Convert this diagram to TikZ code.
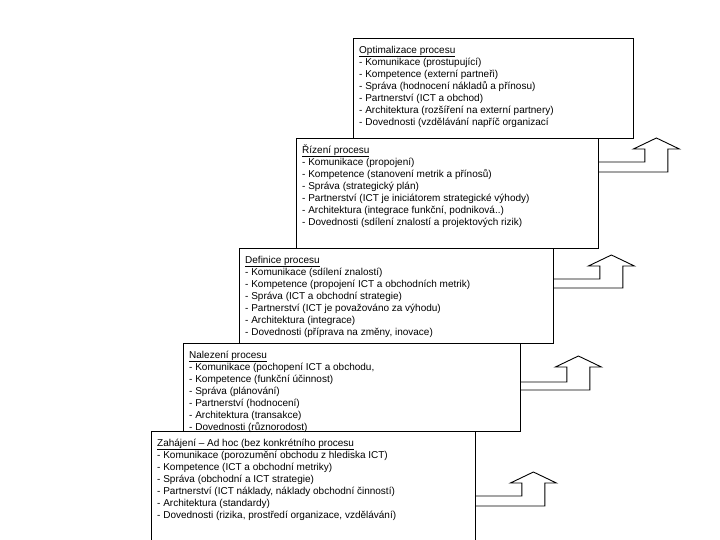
\documentclass[tikz,border=0pt]{standalone}
\usepackage{fontspec}
\setmainfont{Liberation Sans}
\usepackage{tikz}
\usetikzlibrary{calc}
\tikzstyle{stage}=[draw, line width=0.9pt, anchor=north west, inner sep=0pt]
\tikzstyle{stagetext}=[anchor=north west, align=left, inner xsep=6pt, inner ysep=5pt, font=\fontsize{10}{12}\selectfont]
\tikzstyle{bentarrow}=[line width=0.9pt, line join=miter]
\newcommand{\stage}{\node[stage]}
\newcommand{\stagetitle}[1]{\rule{0pt}{10pt}\underline{#1}}
\newcommand{\stagearrow}[4]{\draw[bentarrow] ($(#1.north east)+(0,#2)$) -- ++(46,0) -- ++(0,{#4-#2}) -- ++(-11.5,0) -- ++(23,-11) -- ++(23,11) -- ++(-11.5,0) -- ++(0,{#3-#4}) -- ++(-69,0);}

\begin{document}
\begin{tikzpicture}[x=1pt, y=-1pt]
    \useasboundingbox (0,0) rectangle (720,540);
    \stage[minimum width=280, minimum height=100] (opt) at (353,38) {};
    \stage[minimum width=302, minimum height=110] (riz) at (296,138) {};
    \stage[minimum width=314, minimum height=95] (def) at (239,248) {};
    \stage[minimum width=337, minimum height=88] (nal) at (183,343) {};
    \stage[minimum width=324, minimum height=112] (zah) at (151,431) {};
    \node[stagetext] (opttext) at (opt.north west) {\stagetitle{Optimalizace procesu}\\
        - Komunikace (prostupující)\\
        - Kompetence (externí partneři)\\
        - Správa (hodnocení nákladů a přínosu)\\
        - Partnerství (ICT a obchod)\\
        - Architektura (rozšíření na externí partnery)\\
        - Dovednosti (vzdělávání napříč organizací};
    \node[stagetext] (riztext) at (riz.north west) {\stagetitle{Řízení procesu}\\
        - Komunikace (propojení)\\
        - Kompetence (stanovení metrik a přínosů)\\
        - Správa (strategický plán)\\
        - Partnerství (ICT je iniciátorem strategické výhody)\\
        - Architektura (integrace funkční, podniková..)\\
        - Dovednosti (sdílení znalostí a projektových rizik)};
    \node[stagetext] (deftext) at (def.north west) {\stagetitle{Definice procesu}\\
        - Komunikace (sdílení znalostí)\\
        - Kompetence (propojení ICT a obchodních metrik)\\
        - Správa (ICT a obchodní strategie)\\
        - Partnerství (ICT je považováno za výhodu)\\
        - Architektura (integrace)\\
        - Dovednosti (příprava na změny, inovace)};
    \node[stagetext] (naltext) at (nal.north west) {\stagetitle{Nalezení procesu}\\
        - Komunikace (pochopení ICT a obchodu,\\
        - Kompetence (funkční účinnost)\\
        - Správa (plánování)\\
        - Partnerství (hodnocení)\\
        - Architektura (transakce)\\
        - Dovednosti (různorodost)};
    \node[stagetext] (zahtext) at (zah.north west) {\stagetitle{Zahájení – Ad hoc (bez konkrétního procesu}\\
        - Komunikace (porozumění obchodu z hlediska ICT)\\
        - Kompetence (ICT a obchodní metriky)\\
        - Správa (obchodní a ICT strategie)\\
        - Partnerství (ICT náklady, náklady obchodní činností)\\
        - Architektura (standardy)\\
        - Dovednosti (rizika, prostředí organizace, vzdělávání)};
    \stagearrow{riz}{24}{34}{11}
    \stagearrow{def}{31}{40}{18}
    \stagearrow{nal}{39}{47}{24}
    \stagearrow{zah}{65}{75}{52}
\end{tikzpicture}
\end{document}
